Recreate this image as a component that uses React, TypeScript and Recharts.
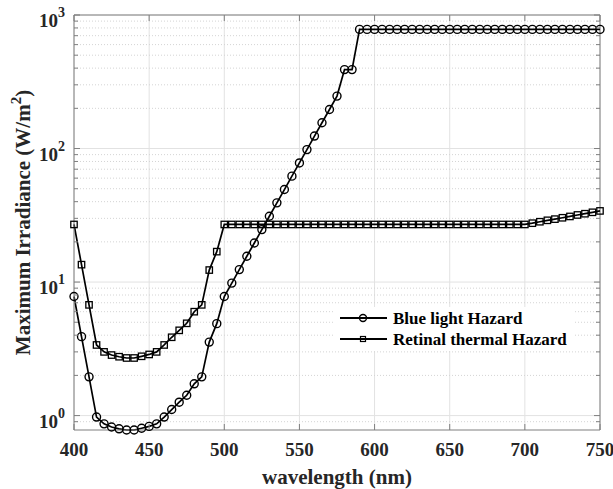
import { LineChart, Line, XAxis, YAxis, CartesianGrid, ReferenceLine } from "recharts";

const wavelength = [
  400, 405, 410, 415, 420, 425, 430, 435, 440, 445, 450, 455, 460, 465, 470, 475, 480, 485, 490, 495,
  500, 505, 510, 515, 520, 525, 530, 535, 540, 545, 550, 555, 560, 565, 570, 575, 580, 585, 590, 595,
  600, 605, 610, 615, 620, 625, 630, 635, 640, 645, 650, 655, 660, 665, 670, 675, 680, 685, 690, 695,
  700, 705, 710, 715, 720, 725, 730, 735, 740, 745, 750,
];

const blueLight = [
  7.8, 3.9, 1.95, 0.975, 0.867, 0.821, 0.796, 0.78, 0.78, 0.804, 0.83, 0.867, 0.975, 1.11, 1.26, 1.42, 1.73, 1.95, 3.55, 4.88,
  7.8, 9.82, 12.4, 15.6, 19.6, 24.7, 31.1, 39.2, 49.3, 62.1, 78, 98.2, 124, 156, 196, 247, 390, 390, 780, 780,
  780, 780, 780, 780, 780, 780, 780, 780, 780, 780, 780, 780, 780, 780, 780, 780, 780, 780, 780, 780,
  780, 780, 780, 780, 780, 780, 780, 780, 780, 780, 780,
];

const retinalThermal = [
  27, 13.5, 6.75, 3.38, 3.0, 2.84, 2.76, 2.7, 2.7, 2.78, 2.87, 3.0, 3.38, 3.86, 4.35, 4.91, 6.0, 6.75, 12.3, 16.9,
  27, 27, 27, 27, 27, 27, 27, 27, 27, 27, 27, 27, 27, 27, 27, 27, 27, 27, 27, 27,
  27, 27, 27, 27, 27, 27, 27, 27, 27, 27, 27, 27, 27, 27, 27, 27, 27, 27, 27, 27,
  27, 27.6, 28.3, 29.0, 29.6, 30.3, 31.0, 31.8, 32.5, 33.3, 34.1,
];

const xTicks = [400, 450, 500, 550, 600, 650, 700, 750];
const yMajor = [1, 10, 100, 1000];
const yMinor = [
  0.9, 2, 3, 4, 5, 6, 7, 8, 9, 20, 30, 40, 50, 60, 70, 80, 90, 200, 300, 400, 500, 600, 700, 800, 900,
];

const data = wavelength.map((wl, i) => ({
  wl,
  blue: blueLight[i],
  retinal: retinalThermal[i],
}));

// plot box (pixels), matches margins + axis sizes below
const PL = 74;
const PR = 600;
const PT = 15;
const PB = 430;

const FONT = '"Liberation Serif", "Times New Roman", serif';
const AXIS = "#7f7f7f";

const XTick = (props: any) => {
  const { x, payload } = props;
  return (
    <g>
      <line x1={x} x2={x} y1={PB} y2={PB - 6} stroke={AXIS} />
      <line x1={x} x2={x} y1={PT} y2={PT + 6} stroke={AXIS} />
      <text x={x} y={456} textAnchor="middle" fontFamily={FONT} fontWeight="bold" fontSize={19} fill="#262626">
        {payload.value}
      </text>
    </g>
  );
};

const YTick = (props: any) => {
  const { y, payload } = props;
  const v = payload.value;
  const major = yMajor.includes(v);
  const len = major ? 6 : 4;
  return (
    <g>
      <line x1={PL} x2={PL + len} y1={y} y2={y} stroke={AXIS} />
      <line x1={PR - len} x2={PR} y1={y} y2={y} stroke={AXIS} />
      {major && (
        <text x={65} y={y + 12} textAnchor="end" fontFamily={FONT} fontWeight="bold" fontSize={19} fill="#262626">
          10
          <tspan dy={-10} fontSize={14}>
            {Math.round(Math.log10(v))}
          </tspan>
        </text>
      )}
    </g>
  );
};

const XLabel = (props: any) => {
  const vb = props.viewBox || { x: PL, width: PR - PL };
  return (
    <text x={vb.x + vb.width / 2} y={484} textAnchor="middle" fontFamily={FONT} fontWeight="bold" fontSize={21} fill="#262626">
      wavelength (nm)
    </text>
  );
};

const YLabel = (props: any) => {
  const vb = props.viewBox || { y: PT, height: PB - PT };
  const cy = vb.y + vb.height / 2;
  return (
    <text
      x={30}
      y={cy}
      transform={`rotate(-90, 30, ${cy})`}
      textAnchor="middle"
      fontFamily={FONT}
      fontWeight="bold"
      fontSize={21}
      fill="#262626"
    >
      Maximum Irradiance (W/m
      <tspan dy={-9} fontSize={15}>
        2
      </tspan>
      <tspan dy={9}>)</tspan>
    </text>
  );
};

const SquareDot = (props: any) => {
  const { cx, cy, index } = props;
  if (cx == null || cy == null) return null;
  return <rect key={`sq-${index}`} x={cx - 3.2} y={cy - 3.2} width={6.4} height={6.4} fill="none" stroke="#000" strokeWidth={1.3} />;
};

function LegendBox() {
  return (
    <svg width={240} height={44} style={{ position: "absolute", left: 334, top: 307, background: "#fff" }}>
      <line x1={6} x2={53} y1={11} y2={11} stroke="#000" strokeWidth={1.8} />
      <circle cx={29} cy={11} r={3.5} fill="none" stroke="#000" strokeWidth={1.4} />
      <text x={59} y={17} fontFamily={FONT} fontWeight="bold" fontSize={17} fill="#000">
        Blue light Hazard
      </text>
      <line x1={6} x2={53} y1={32} y2={32} stroke="#000" strokeWidth={1.8} />
      <rect x={26.5} y={29.5} width={5} height={5} fill="none" stroke="#000" strokeWidth={1.2} />
      <text x={59} y={38} fontFamily={FONT} fontWeight="bold" fontSize={17} fill="#000">
        Retinal thermal Hazard
      </text>
    </svg>
  );
}

export default function App() {
  return (
    <div style={{ position: "absolute", left: 0, top: 0, width: 613, height: 489, background: "#fff" }}>
      <LineChart width={613} height={489} data={data} margin={{ top: PT, right: 613 - PR, bottom: 0, left: 0 }}>
        <CartesianGrid horizontal={false} stroke="#e2e2e2" />
        {yMinor.map((v) => (
          <ReferenceLine key={`mn-${v}`} y={v} stroke="#d4d4d4" strokeDasharray="1 2" />
        ))}
        {yMajor.map((v) => (
          <ReferenceLine key={`mj-${v}`} y={v} stroke="#e2e2e2" />
        ))}
        <XAxis
          dataKey="wl"
          type="number"
          domain={[400, 750]}
          ticks={xTicks}
          interval={0}
          height={489 - PB}
          tick={<XTick />}
          tickLine={false}
          axisLine={{ stroke: AXIS }}
          label={<XLabel />}
        />
        <YAxis
          type="number"
          scale="log"
          domain={[0.78, 1000]}
          ticks={[...yMajor, ...yMinor]}
          interval={0}
          width={PL}
          tick={<YTick />}
          tickLine={false}
          axisLine={{ stroke: AXIS }}
          label={<YLabel />}
        />
        <ReferenceLine x={750} stroke={AXIS} />
        <ReferenceLine y={1000} stroke={AXIS} />
        <Line
          type="linear"
          dataKey="retinal"
          stroke="#000"
          strokeWidth={1.7}
          dot={<SquareDot />}
          isAnimationActive={false}
        />
        <Line
          type="linear"
          dataKey="blue"
          stroke="#000"
          strokeWidth={1.7}
          dot={{ r: 4, stroke: "#000", strokeWidth: 1.4, fill: "none" }}
          isAnimationActive={false}
        />
      </LineChart>
      <LegendBox />
    </div>
  );
}
